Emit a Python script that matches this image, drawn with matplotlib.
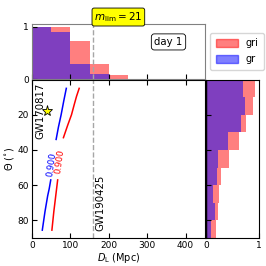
import numpy as np
import matplotlib
matplotlib.use('Agg')
import matplotlib.pyplot as plt
from matplotlib.patches import Patch

# Data
dl_edges = [0, 50, 100, 150, 200, 250, 300]
dl_frac_gri = [1.0, 1.0, 0.72, 0.28, 0.08, 0.0]
dl_frac_gr = [1.0, 0.89, 0.28, 0.10, 0.0, 0.0]

theta_edges = [0, 10, 20, 30, 40, 50, 60, 70, 80, 90]
th_frac_gri = [0.93, 0.89, 0.75, 0.62, 0.44, 0.29, 0.24, 0.225, 0.19]
th_frac_gr = [0.70, 0.73, 0.66, 0.41, 0.225, 0.21, 0.13, 0.17, 0.09]

# 0.900 contours (gaps where the labels sit)
gr_dl = [89.5, 83, 76, 69, 63, np.nan, 49, 45, 41, 34, 27]
gr_theta = [5, 12, 20, 27, 34, np.nan, 57, 62, 66, 75, 85.5]
gri_dl = [123, 116, 110, 103, 93, 82, np.nan, 67, 62, 57, 52]
gri_theta = [5, 9.6, 14.3, 20, 26, 33, np.nan, 57, 66, 75, 85.5]

gw170817 = (40, 18)
gw190425_dl = 159

red_c = (1, 0, 0, 0.5)
blue_c = (0, 0, 1, 0.5)

plt.rcParams['font.size'] = 7
plt.rcParams['xtick.labelsize'] = 6.5
plt.rcParams['ytick.labelsize'] = 6.5

fig = plt.figure(figsize=(2.66, 2.66), dpi=100)
ax = fig.add_axes([0.120, 0.105, 0.650, 0.596])
ax_top = fig.add_axes([0.120, 0.703, 0.650, 0.205], sharex=ax)
ax_r = fig.add_axes([0.774, 0.105, 0.199, 0.596], sharey=ax)

# Main panel
ax.plot(gr_dl, gr_theta, color='blue', lw=1.1)
ax.plot(gri_dl, gri_theta, color='red', lw=1.1)
ax.text(50, 48.5, '0.900', color='blue', rotation=82, ha='center', va='center', fontsize=6.2)
ax.text(71, 46.5, '0.900', color='red', rotation=82, ha='center', va='center', fontsize=6.2)
ax.plot(*gw170817, marker='*', color='yellow', mec='k', mew=0.6, ms=8, ls='none')
ax.text(21, 18, 'GW170817', rotation=90, ha='center', va='center', fontsize=7.3)
ax.axvline(gw190425_dl, color='0.65', ls='--', lw=1)
ax.text(164, 86, 'GW190425', rotation=90, ha='left', va='bottom', fontsize=7.3)
ax.set_xlim(0, 450)
ax.set_ylim(90, 0)
ax.set_xticks([0, 100, 200, 300, 400])
ax.set_yticks([20, 40, 60, 80])
ax.set_xlabel(r'$D_{\rm L}$ (Mpc)', labelpad=1)
ax.set_ylabel(r'$\Theta$ ($^{\circ}$)', labelpad=1)
ax.tick_params(direction='in', top=True, pad=2)

# Top histogram
ax_top.stairs(dl_frac_gri, dl_edges, fill=True, color=red_c, lw=0)
ax_top.stairs(dl_frac_gr, dl_edges, fill=True, color=blue_c, lw=0)
ax_top.axvline(gw190425_dl, color='0.65', ls='--', lw=1)
ax_top.set_ylim(0, 1.04)
ax_top.set_yticks([0, 1])
ax_top.tick_params(direction='in', labelbottom=False, pad=2)
for s in ax_top.spines.values():
    s.set_color('0.5')
ax_top.text(0.5, 1.01, r'$m_{\rm lim} = 21$', transform=ax_top.transAxes,
            ha='center', va='bottom', fontsize=7.5,
            bbox=dict(boxstyle='round,pad=0.2', fc='yellow', ec='k', lw=0.6))
ax_top.text(0.79, 0.68, 'day 1', transform=ax_top.transAxes, ha='center', va='center',
            fontsize=7.3, bbox=dict(boxstyle='round,pad=0.3', fc='white', ec='k', lw=0.6))

# Right histogram
ax_r.stairs(th_frac_gri, theta_edges, fill=True, color=red_c, lw=0, orientation='horizontal')
ax_r.stairs(th_frac_gr, theta_edges, fill=True, color=blue_c, lw=0, orientation='horizontal')
ax_r.set_xlim(0, 1)
ax_r.set_xticks([0, 1])
ax_r.tick_params(direction='in', labelleft=False, pad=2)
ax_r.axvline(0, color='k', lw=1)

handles = [Patch(color=red_c, label='gri'), Patch(color=blue_c, label='gr')]
fig.legend(handles=handles, loc='upper right', bbox_to_anchor=(0.992, 0.876),
           fontsize=7, handlelength=2.3, handleheight=0.8, labelspacing=0.6,
           borderaxespad=0, borderpad=0.55)

fig.savefig('out.png', dpi=100)
plt.close(fig)
